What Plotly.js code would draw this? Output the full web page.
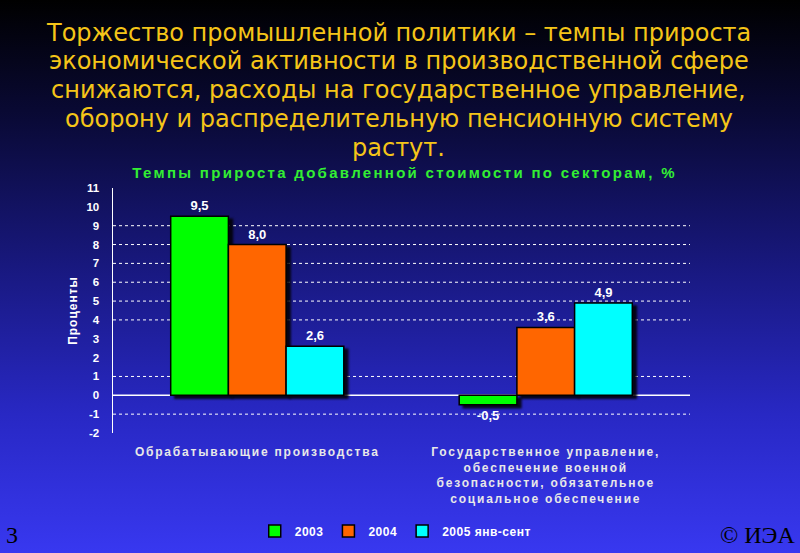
<!DOCTYPE html>
<html>
<head>
<meta charset="utf-8">
<script src="https://cdn.plot.ly/plotly-3.0.1.min.js"></script>
<style>
html,body{margin:0;padding:0;width:800px;height:553px;overflow:hidden;
background:linear-gradient(to bottom,#000000 0%,#0a0a38 22%,#18187e 48%,#2828c4 75%,#3838f0 100%);}
#chart{width:800px;height:553px;}
.xtick text{letter-spacing:1.8px;}
.ytitle{letter-spacing:1px;}
g.annotation[data-index="5"] text{letter-spacing:2.3px;}
.legendtext{letter-spacing:0.5px;}
.point path{filter:drop-shadow(4px 3px 1px rgba(0,0,0,0.85));}
</style>
</head>
<body>
<div id="chart"></div>
<script>
const categories = ["Обрабатывающие производства",
  "Государственное управление,<br>обеспечение военной<br>безопасности, обязательное<br>социальное обеспечение"];
const seriesNames = ["2003", "2004", "2005 янв-сент"];
const v2003 = [9.5, -0.5];
const v2004 = [8.0, 3.6];
const v2005 = [2.6, 4.9];
const gridValues = [-1, 1, 4, 5, 6, 7, 8, 9];
const yTicks = [-2,-1,0,1,2,3,4,5,6,7,8,9,10,11];
const colors = ["#00ff00", "#ff6600", "#00ffff"];

const titleLines = ["Торжество промышленной политики – темпы прироста",
  "экономической активности в производственной сфере",
  "снижаются, расходы на государственное управление,",
  "оборону и распределительную пенсионную систему",
  "растут."];
const subTitle = "Темпы прироста добавленной стоимости по секторам, %";

const allVals = [v2003, v2004, v2005];
const traces = allVals.map((vals, i) => ({
  type: "bar",
  name: seriesNames[i],
  x: categories,
  y: vals,
  marker: {color: colors[i], line: {color: "#000000", width: 1.5}},
  text: vals.map(v => v.toFixed(1).replace(".", ",")),
  textposition: "outside",
  cliponaxis: false,
  textfont: {family: "Liberation Sans, Arial", size: 13, color: "#ffffff", weight: "bold"},
  hoverinfo: "skip"
}));

const shapes = gridValues.map(g => ({
  type: "line", xref: "paper", yref: "y", x0: 0, x1: 1, y0: g, y1: g,
  line: {color: "#ffffff", width: 1, dash: "dot"}, layer: "below"
}));
shapes.push({type: "line", xref: "paper", yref: "y", x0: 0, x1: 1, y0: 0, y1: 0,
  line: {color: "#ffffff", width: 1.5}, layer: "below"});

const layout = {
  width: 800, height: 553,
  paper_bgcolor: "rgba(0,0,0,0)",
  plot_bgcolor: "rgba(0,0,0,0)",
  margin: {l: 113, r: 110, t: 188, b: 120},
  separators: ", ",
  barmode: "group",
  bargap: 0.4,
  bargroupgap: 0,
  showlegend: true,
  legend: {orientation: "h", x: 0.49, xanchor: "center",
    yref: "container", y: (553 - 531) / 553, yanchor: "middle",
    font: {family: "Liberation Sans, Arial", size: 12, color: "#ffffff", weight: "bold"},
    itemwidth: 30, tracegroupgap: 0},
  xaxis: {
    showline: false, showgrid: false, zeroline: false, ticks: "",
    ticklabelstandoff: 10,
    tickfont: {family: "Liberation Sans, Arial", size: 12, color: "#e8e8e8", weight: "bold"},
    automargin: false
  },
  yaxis: {
    range: [-2, 11], tickvals: yTicks, ticktext: yTicks.map(String),
    showgrid: false, zeroline: false,
    showline: true, linecolor: "#ffffff", linewidth: 1.5,
    ticks: "", ticklen: 0, ticklabelstandoff: 10,
    tickfont: {family: "Liberation Sans, Arial", size: 11.5, color: "#ffffff", weight: "bold"},
    title: {text: "Проценты", standoff: 6,
      font: {family: "Liberation Sans, Arial", size: 12, color: "#ffffff", weight: "bold"}},
    automargin: false
  },
  shapes: shapes,
  annotations: []
};

const plotH = 553 - 188 - 120;
const lineCenters = [33, 61, 90, 119, 148];
titleLines.forEach((t, i) => layout.annotations.push({
  text: t, xref: "paper", yref: "paper", x: 0.495, xanchor: "center",
  y: (553 - 120 - lineCenters[i]) / plotH, yanchor: "middle", showarrow: false,
  font: {family: "DejaVu Sans", size: 24, color: "#f5c518"}
}));
layout.annotations.push({
  text: subTitle, xref: "paper", yref: "paper", x: 0.505, xanchor: "center",
  y: (553 - 120 - 173) / plotH, yanchor: "middle", showarrow: false,
  font: {family: "Liberation Sans, Arial", size: 15, color: "#33ee33", weight: "bold"}
});
layout.annotations.push({
  text: "3", xref: "paper", yref: "paper", x: (4 - 113) / 577, xanchor: "left",
  y: (553 - 120 - 535) / plotH, yanchor: "middle", showarrow: false,
  font: {family: "Liberation Serif, Times New Roman", size: 24, color: "#000000"}
});
layout.annotations.push({
  text: "© ИЭА", xref: "paper", yref: "paper", x: (797 - 113) / 577, xanchor: "right",
  y: (553 - 120 - 535) / plotH, yanchor: "middle", showarrow: false,
  font: {family: "Liberation Serif, Times New Roman", size: 24, color: "#000000"}
});

Plotly.newPlot("chart", traces, layout, {displayModeBar: false, staticPlot: true});
</script>
</body>
</html>
